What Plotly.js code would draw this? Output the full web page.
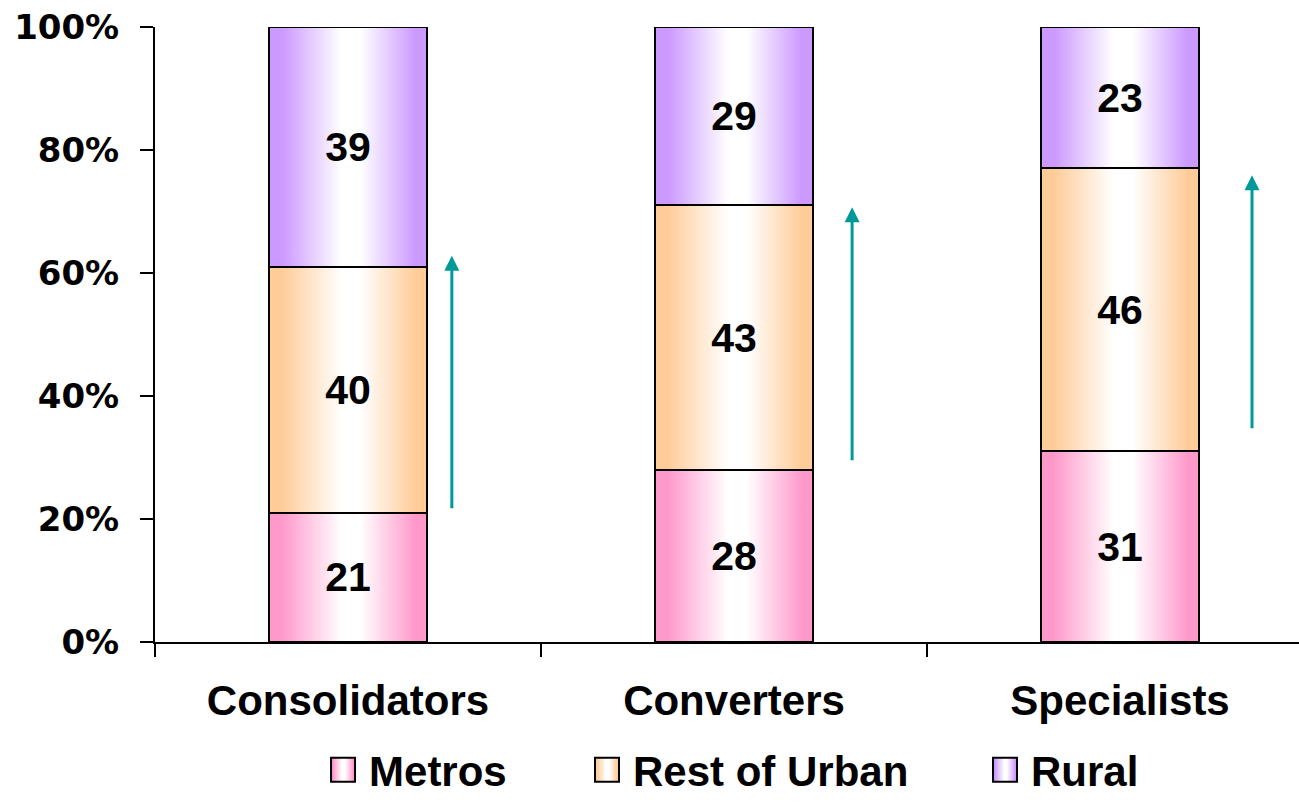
<!DOCTYPE html>
<html>
<head>
<meta charset="utf-8">
<script src="https://cdn.plot.ly/plotly-3.0.1.min.js"></script>
<style>
  html, body { margin: 0; padding: 0; background: #ffffff; }
  #chart { width: 1299px; height: 804px; }
</style>
</head>
<body>
<div id="chart"></div>
<script>
// Segment shares (%) of each buyer group by location
const categories = ['Consolidators', 'Converters', 'Specialists'];
const metros = [21, 28, 31];
const restOfUrban = [40, 43, 46];
const rural = [39, 29, 23];
const yTickValues = [0, 20, 40, 60, 80, 100];
const yTickLabels = yTickValues.map(v => v + '%');

// Series styling: edge colour of each horizontal gradient
const seriesStyle = [
  { name: 'Metros', values: metros, edge: '#FF99CC', legend: 'legend', lx: 0.2533 },
  { name: 'Rest of Urban', values: restOfUrban, edge: '#FFCC99', legend: 'legend2', lx: 0.4565 },
  { name: 'Rural', values: rural, edge: '#CC99FF', legend: 'legend3', lx: 0.7629 }
];

const xIdx = categories.map((_, i) => i);

const traces = seriesStyle.map(s => ({
  type: 'bar',
  name: s.name,
  legend: s.legend,
  x: xIdx,
  y: s.values,
  text: s.values.map(String),
  texttemplate: '%{text}',
  width: 0.407,
  marker: { color: s.edge, line: { color: '#000000', width: 2 } },
  textposition: 'inside',
  insidetextanchor: 'middle',
  constraintext: 'none',
  textfont: { family: 'Liberation Sans, Arial, sans-serif', size: 41, color: '#000000', weight: 'bold' },
  hoverinfo: 'skip'
}));

// Upward trend arrows beside each bar (x offset from bar centre, y in %)
const arrowGeom = [
  { dx: 0.269, from: 21.5, to: 62.8 },
  { dx: 0.306, from: 29.3, to: 70.7 },
  { dx: 0.342, from: 34.5, to: 75.9 }
];
const annotations = arrowGeom.map((a, i) => ({
  x: i + a.dx, y: a.to, xref: 'x', yref: 'y',
  ax: i + a.dx, ay: a.from, axref: 'x', ayref: 'y',
  showarrow: true, arrowhead: 2, arrowsize: 1, arrowwidth: 3,
  arrowcolor: '#009999', text: ''
}));

const legendFont = { family: 'Liberation Sans, Arial, sans-serif', size: 42, color: '#000000', weight: 'bold' };
function legendAt(x) {
  return {
    orientation: 'h', xref: 'container', yref: 'container',
    xanchor: 'left', yanchor: 'bottom', x: x, y: -0.006,
    font: legendFont, bgcolor: 'rgba(0,0,0,0)', borderwidth: 0,
    itemclick: false, itemdoubleclick: false
  };
}

const layout = {
  width: 1299, height: 804,
  margin: { l: 155, r: 0, t: 27, b: 162, pad: 0 },
  paper_bgcolor: '#ffffff', plot_bgcolor: '#ffffff',
  barmode: 'stack',
  bargap: 0,
  showlegend: true,
  legend: legendAt(seriesStyle[0].lx),
  legend2: legendAt(seriesStyle[1].lx),
  legend3: legendAt(seriesStyle[2].lx),
  xaxis: {
    type: 'category',
    categoryorder: 'array', categoryarray: xIdx,
    range: [-0.5, 2.4637],
    tickvals: xIdx, ticktext: categories,
    tickson: 'boundaries',
    ticks: 'outside', ticklen: 13, tickwidth: 2, tickcolor: '#000000',
    showline: true, linecolor: '#000000', linewidth: 2,
    showgrid: false, zeroline: false,
    automargin: false,
    ticklabelstandoff: 21,
    tickfont: { family: 'Liberation Sans, Arial, sans-serif', size: 42, color: '#000000', weight: 'bold' },
    fixedrange: true
  },
  yaxis: {
    range: [0, 100],
    tickvals: yTickValues, ticktext: yTickLabels,
    ticks: 'outside', ticklen: 13, tickwidth: 2, tickcolor: '#000000',
    showline: true, linecolor: '#000000', linewidth: 2,
    showgrid: false, zeroline: false,
    automargin: false,
    ticklabelstandoff: 14,
    tickfont: { family: 'DejaVu Sans, Verdana, sans-serif', size: 34, color: '#000000', weight: 'bold' },
    fixedrange: true
  },
  annotations: annotations
};

// Horizontal edge -> white -> edge gradient applied to bar and legend fills
function applyGradients(gd) {
  const svg = gd.querySelector('svg.main-svg');
  const ns = 'http://www.w3.org/2000/svg';
  let defs = svg.querySelector('defs');
  if (!defs) { defs = document.createElementNS(ns, 'defs'); svg.insertBefore(defs, svg.firstChild); }
  const byRgb = {};
  seriesStyle.forEach((s, k) => {
    const id = 'grad' + k;
    const g = document.createElementNS(ns, 'linearGradient');
    g.setAttribute('id', id);
    g.setAttribute('x1', '0'); g.setAttribute('x2', '1');
    g.setAttribute('y1', '0'); g.setAttribute('y2', '0');
    [[0, s.edge], [0.08, s.edge], [0.46, '#ffffff'], [0.58, '#ffffff'], [0.93, s.edge], [1, s.edge]].forEach(st => {
      const e = document.createElementNS(ns, 'stop');
      e.setAttribute('offset', st[0]);
      e.setAttribute('stop-color', st[1]);
      g.appendChild(e);
    });
    defs.appendChild(g);
    const h = s.edge.replace('#', '');
    const rgb = 'rgb(' + parseInt(h.slice(0, 2), 16) + ', ' + parseInt(h.slice(2, 4), 16) + ', ' + parseInt(h.slice(4, 6), 16) + ')';
    byRgb[rgb] = id;
  });
  gd.querySelectorAll('path').forEach(p => {
    const f = p.style.fill;
    if (byRgb[f]) {
      p.style.fill = 'url(#' + byRgb[f] + ')';
      if (p.closest('.legendpoints')) {
        p.setAttribute('d', 'M-18,12H6V-12H-18Z');
      }
    }
  });
}

Plotly.newPlot('chart', traces, layout, { displayModeBar: false, staticPlot: true })
  .then(applyGradients);
</script>
</body>
</html>
